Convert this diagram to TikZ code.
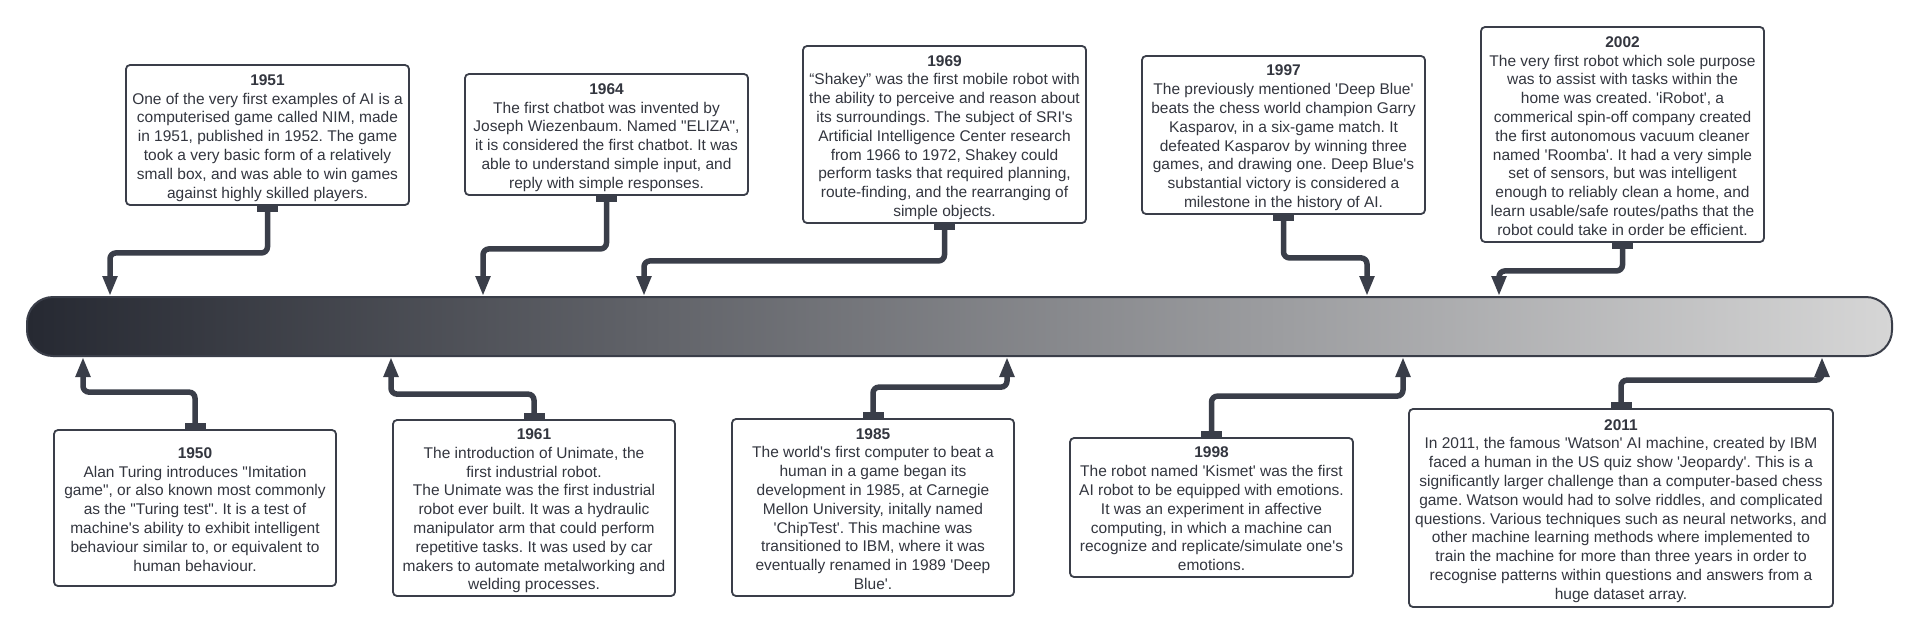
\documentclass[tikz,border=0pt]{standalone}
\usepackage{fontspec}
\setmainfont{Liberation Sans}[Ligatures=TeXOff]
\usetikzlibrary{arrows.meta}
\definecolor{linec}{HTML}{3A3E49}
\definecolor{textc}{HTML}{33363F}
\definecolor{barl}{HTML}{262932}
\definecolor{barr}{HTML}{D6D6D6}
\newcommand{\yr}[1]{\rule{0pt}{17.5pt}\textbf{#1}}
\newcommand{\lst}{\rule[-4pt]{0pt}{4pt}}
\frenchspacing
\begin{document}
\frenchspacing
\begin{tikzpicture}[x=1pt,y=-1pt,
  evt/.style={draw=linec, line width=1.8pt, rounded corners=4pt, fill=white, text=textc,
    align=center, inner xsep=4pt, inner ysep=0pt,
    font=\fontsize{15.5}{18.8}\selectfont\frenchspacing, minimum width=283pt},
  conn/.style={draw=linec, line width=5.5pt, rounded corners=6pt,
    {Rectangle[length=6pt,width=21pt]}-{Triangle[length=20pt,width=14pt]}}]
\fill[white] (0,0) rectangle (1920,635);
\useasboundingbox (0,0) rectangle (1920,635);

\node[draw=linec, line width=2pt, rounded corners=26pt, left color=barl, right color=barr,
  minimum width=1865pt, minimum height=59pt, inner sep=0pt] (bar) at (959.5,326.5) {};

% top events
\node[evt, minimum height=140pt] (e1951) at (267.5,135) {\yr{1951}\\
One of the very first examples of AI is a\\
computerised game called NIM, made\\
in 1951, published in 1952. The game\\
took a very basic form of a relatively\\
small box, and was able to win games\\
against highly skilled players.\lst};

\node[evt, minimum height=121pt] (e1964) at (606.5,134.5) {\yr{1964}\\
The first chatbot was invented by\\
Joseph Wiezenbaum. Named "ELIZA",\\
it is considered the first chatbot. It was\\
able to understand simple input, and\\
reply with simple responses.\lst};

\node[evt, minimum height=177pt] (e1969) at (944.5,134.5) {\yr{1969}\\
“Shakey” was the first mobile robot with\\
the ability to perceive and reason about\\
its surroundings. The subject of SRI's\\
Artificial Intelligence Center research\\
from 1966 to 1972, Shakey could\\
perform tasks that required planning,\\
route-finding, and the rearranging of\\
simple objects.\lst};

\node[evt, minimum height=158pt] (e1997) at (1283.5,135) {\yr{1997}\\
The previously mentioned 'Deep Blue'\\
beats the chess world champion Garry\\
Kasparov, in a six-game match. It\\
defeated Kasparov by winning three\\
games, and drawing one. Deep Blue's\\
substantial victory is considered a\\
milestone in the history of AI.\lst};

\node[evt, minimum height=215pt] (e2002) at (1622.5,134.5) {\yr{2002}\\
The very first robot which sole purpose\\
was to assist with tasks within the\\
home was created. 'iRobot', a\\
commerical spin-off company created\\
the first autonomous vacuum cleaner\\
named 'Roomba'. It had a very simple\\
set of sensors, but was intelligent\\
enough to reliably clean a home, and\\
learn usable/safe routes/paths that the\\
robot could take in order be efficient.\lst};

% bottom events
\node[evt, minimum width=282pt, minimum height=156pt] (e1950) at (195,508) {\yr{1950}\\
Alan Turing introduces "Imitation\\
game", or also known most commonly\\
as the "Turing test". It is a test of\\
machine's ability to exhibit intelligent\\
behaviour similar to, or equivalent to\\
human behaviour.\lst};

\node[evt, minimum width=282pt, minimum height=176pt] (e1961) at (534,508) {\yr{1961}\\
The introduction of Unimate, the\\
first industrial robot.\\
The Unimate was the first industrial\\
robot ever built. It was a hydraulic\\
manipulator arm that could perform\\
repetitive tasks. It was used by car\\
makers to automate metalworking and\\
welding processes.\lst};

\node[evt, minimum width=282pt, minimum height=177pt] (e1985) at (873,507.5) {\yr{1985}\\
The world's first computer to beat a\\
human in a game began its\\
development in 1985, at Carnegie\\
Mellon University, initally named\\
'ChipTest'. This machine was\\
transitioned to IBM, where it was\\
eventually renamed in 1989 'Deep\\
Blue'.\lst};

\node[evt, minimum height=139pt] (e1998) at (1211.5,507.5) {\yr{1998}\\
The robot named 'Kismet' was the first\\
AI robot to be equipped with emotions.\\
It was an experiment in affective\\
computing, in which a machine can\\
recognize and replicate/simulate one's\\
emotions.\lst};

\node[evt, minimum width=424pt, minimum height=198pt] (e2011) at (1621,508) {\yr{2011}\\
In 2011, the famous 'Watson' AI machine, created by IBM\\
faced a human in the US quiz show 'Jeopardy'. This is a\\
significantly larger challenge than a computer-based chess\\
game. Watson would had to solve riddles, and complicated\\
questions. Various techniques such as neural networks, and\\
other machine learning methods where implemented to\\
train the machine for more than three years in order to\\
recognise patterns within questions and answers from a\\
huge dataset array.\lst};

% arrow targets on the bar
\coordinate (a1951) at (110,0 |- bar.north);
\coordinate (a1964) at (483,0 |- bar.north);
\coordinate (a1969) at (644,0 |- bar.north);
\coordinate (a1997) at (1367,0 |- bar.north);
\coordinate (a2002) at (1499,0 |- bar.north);
\coordinate (a1950) at (83,0 |- bar.south);
\coordinate (a1961) at (391,0 |- bar.south);
\coordinate (a1985) at (1007,0 |- bar.south);
\coordinate (a1998) at (1403,0 |- bar.south);
\coordinate (a2011) at (1822,0 |- bar.south);

\draw[conn] (e1951.south) -- ++(0,47) -| (a1951);
\draw[conn] (e1964.south) -- ++(0,53) -| (a1964);
\draw[conn] (e1969.south) -- ++(0,37) -| (a1969);
\draw[conn] (e1997.south) -- ++(0,43) -| (a1997);
\draw[conn] (e2002.south) -- ++(0,28) -| (a2002);
\draw[conn] (e1950.north) -- ++(0,-37) -| (a1950);
\draw[conn] (e1961.north) -- ++(0,-25) -| (a1961);
\draw[conn] (e1985.north) -- ++(0,-31) -| (a1985);
\draw[conn] (e1998.north) -- ++(0,-41) -| (a1998);
\draw[conn] (e2011.north) -- ++(0,-28) -| (a2011);
\end{tikzpicture}
\end{document}
